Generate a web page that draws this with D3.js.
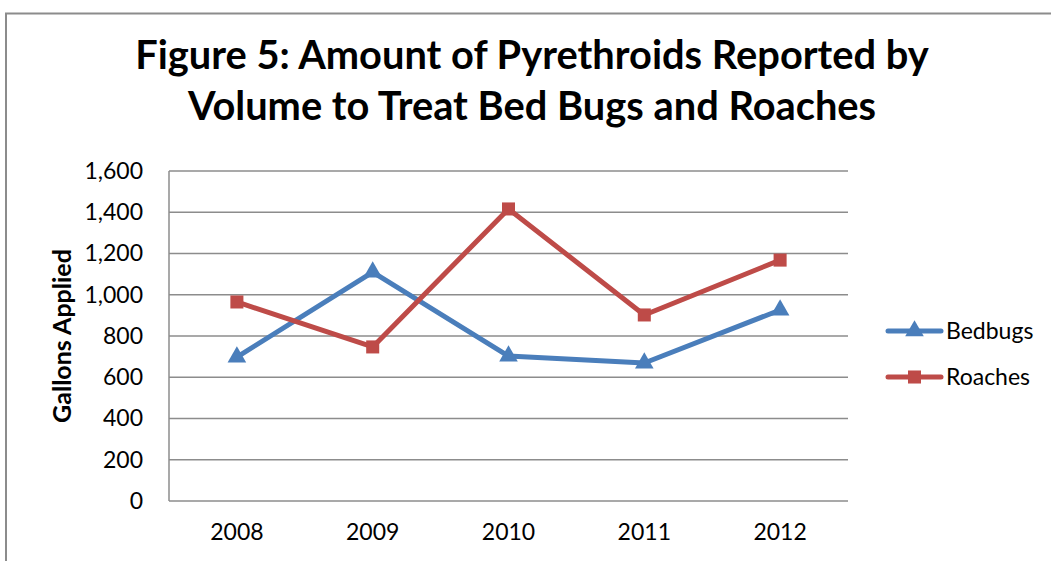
<!doctype html>
<html lang="en">
<head>
  <meta charset="utf-8">
  <title>Figure 5</title>
  <script src="https://d3js.org/d3.v7.min.js"></script>
  <style>
    body { margin: 0; background: #fff; font-family: Lato, 'Open Sans', sans-serif; }
    svg text { fill: #000; }
  </style>
</head>
<body>
<svg id="chart" width="1051" height="561"></svg>
<script>
const years = ["2008", "2009", "2010", "2011", "2012"];
const bedbugs = [698, 1110, 703, 669, 926];
const roaches = [965, 747, 1416, 902, 1168];
const yTicks = [0, 200, 400, 600, 800, 1000, 1200, 1400, 1600];
const titleLines = ["Figure 5: Amount of Pyrethroids Reported by", "Volume to Treat Bed Bugs and Roaches"];

const svg = d3.select("#chart");
const plot = { left: 169, right: 848, top: 171, bottom: 501 };

// outer chart frame (runs off the right and bottom edges)
svg.append("path")
  .attr("d", "M6,561 L6,13.5 L1051,13.5")
  .attr("fill", "none").attr("stroke", "#8c8c8c").attr("stroke-width", 2);

svg.append("g").selectAll("text")
  .data(titleLines).enter().append("text")
  .attr("x", 532)
  .attr("y", (d, i) => 69 + i * 51)
  .attr("text-anchor", "middle")
  .attr("font-size", 39.8).attr("font-weight", "bold")
  .text(d => d);

const x = d3.scaleBand().domain(years).range([plot.left, plot.right]);
const y = d3.scaleLinear().domain([0, 1600]).range([plot.bottom, plot.top]);

// gridlines
svg.append("g").selectAll("line")
  .data(yTicks).enter().append("line")
  .attr("x1", plot.left).attr("x2", plot.right)
  .attr("y1", d => y(d)).attr("y2", d => y(d))
  .attr("stroke", "#8c8c8c").attr("stroke-width", 1.5);

svg.append("line")
  .attr("x1", plot.left).attr("x2", plot.left)
  .attr("y1", plot.top).attr("y2", plot.bottom)
  .attr("stroke", "#8c8c8c").attr("stroke-width", 1.5);

const yAxis = svg.append("g")
  .attr("transform", `translate(${plot.left},0)`)
  .call(d3.axisLeft(y).tickValues(yTicks).tickSize(0).tickPadding(26).tickFormat(d3.format(",")));
yAxis.select(".domain").remove();
yAxis.selectAll("text").attr("font-size", 23).attr("font-family", "Lato, sans-serif").attr("fill", "#000");

const xAxis = svg.append("g")
  .attr("transform", `translate(0,${plot.bottom})`)
  .call(d3.axisBottom(x).tickSize(0).tickPadding(23));
xAxis.select(".domain").remove();
xAxis.selectAll("text").attr("font-size", 23).attr("font-family", "Lato, sans-serif").attr("fill", "#000");

svg.append("text")
  .attr("transform", "translate(62,336) rotate(-90)")
  .attr("dy", "0.35em")
  .attr("text-anchor", "middle")
  .attr("font-size", 25).attr("font-weight", "bold")
  .text("Gallons Applied");

const cx = d => x(d) + x.bandwidth() / 2;
const series = [
  { name: "Bedbugs", values: bedbugs, color: "#4a7ebb", shape: d3.symbolTriangle, size: 150 },
  { name: "Roaches", values: roaches, color: "#be4b48", shape: d3.symbolSquare, size: 170 }
];

const line = d3.line().x(d => cx(d[0])).y(d => y(d[1]));

series.forEach((s, k) => {
  const pts = years.map((yr, i) => [yr, s.values[i]]);
  svg.append("path")
    .datum(pts)
    .attr("d", line)
    .attr("fill", "none").attr("stroke", s.color)
    .attr("stroke-width", 5).attr("stroke-linejoin", "round");
  svg.append("g").selectAll("path")
    .data(pts).enter().append("path")
    .attr("d", d3.symbol().type(s.shape).size(s.size))
    .attr("transform", d => `translate(${cx(d[0])},${y(d[1])})`)
    .attr("fill", s.color);

  // legend
  const ly = 331 + k * 46;
  const lg = svg.append("g");
  lg.append("line")
    .attr("x1", 888).attr("x2", 941).attr("y1", ly).attr("y2", ly)
    .attr("stroke", s.color).attr("stroke-width", 5).attr("stroke-linecap", "round");
  lg.append("path")
    .attr("d", d3.symbol().type(s.shape).size(s.size))
    .attr("transform", `translate(914.5,${ly})`)
    .attr("fill", s.color);
  lg.append("text")
    .attr("x", 946).attr("y", ly).attr("dy", "0.35em")
    .attr("font-size", 23)
    .text(s.name);
});
</script>
</body>
</html>
